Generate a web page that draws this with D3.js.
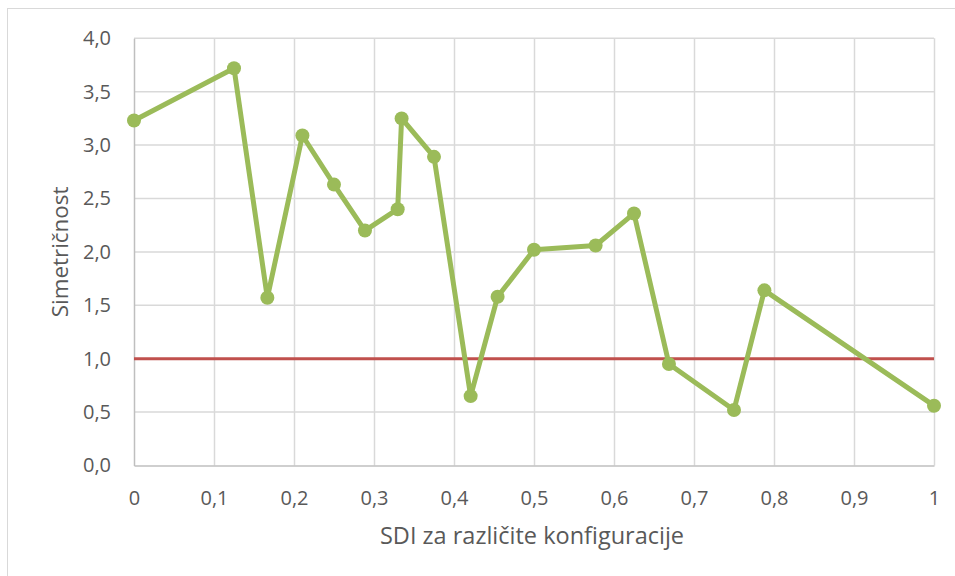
<!DOCTYPE html>
<html>
<head>
<meta charset="utf-8">
<script src="https://cdn.jsdelivr.net/npm/d3@7"></script>
<style>
  html, body { margin: 0; padding: 0; background: #fff; }
  svg { display: block; }
</style>
</head>
<body>
<svg id="chart" width="955" height="576"></svg>
<script>
// SDI value for each configuration and its measured symmetry
const sdi = [0, 0.125, 0.1667, 0.2105, 0.25, 0.2887, 0.3296, 0.3345, 0.375,
             0.4208, 0.4545, 0.5, 0.577, 0.625, 0.6687, 0.75, 0.788, 1];
const simetricnost = [3.23, 3.72, 1.57, 3.09, 2.63, 2.20, 2.40, 3.25, 2.89,
                      0.65, 1.58, 2.02, 2.06, 2.36, 0.95, 0.52, 1.64, 0.56];
// reference level (perfect symmetry)
const refX = [0, 1];
const refY = [1, 1];

const xTicks = [0, 0.1, 0.2, 0.3, 0.4, 0.5, 0.6, 0.7, 0.8, 0.9, 1];
const yTicks = [0, 0.5, 1, 1.5, 2, 2.5, 3, 3.5, 4];

const xTitle = "SDI za različite konfiguracije";
const yTitle = "Simetričnost";

const svg = d3.select("#chart");
const font = "'Open Sans', 'Noto Sans', sans-serif";
const textColor = "#595959";

// outer chart frame
svg.append("rect")
  .attr("x", 7.5).attr("y", 8.5)
  .attr("width", 960).attr("height", 580)
  .attr("fill", "#fff")
  .attr("stroke", "#d9d9d9").attr("stroke-width", 1);

const x = d3.scaleLinear().domain([0, 1]).range([134, 934]);
const y = d3.scaleLinear().domain([0, 4]).range([465.5, 38.3]);

const fmt = v => (v === 0 || v === 1) ? String(v) : String(v).replace(".", ",");
const fmtY = v => v.toFixed(1).replace(".", ",");

// gridlines
const grid = svg.append("g");
grid.selectAll("line.v").data(xTicks.slice(1)).join("line")
  .attr("x1", d => Math.round(x(d)) + 0.5).attr("x2", d => Math.round(x(d)) + 0.5)
  .attr("y1", y(4)).attr("y2", y(0))
  .attr("stroke", "#d9d9d9").attr("stroke-width", 1.5);
grid.selectAll("line.h").data(yTicks.slice(1)).join("line")
  .attr("x1", x(0)).attr("x2", x(1))
  .attr("y1", d => y(d)).attr("y2", d => y(d))
  .attr("stroke", "#d9d9d9").attr("stroke-width", 1.5);

// axes
const xAxis = svg.append("g")
  .attr("transform", `translate(0,${y(0)})`)
  .call(d3.axisBottom(x).tickValues(xTicks).tickFormat(fmt).tickSize(0).tickPadding(25));
const yAxis = svg.append("g")
  .attr("transform", `translate(${x(0)},0)`)
  .call(d3.axisLeft(y).tickValues(yTicks).tickFormat(fmtY).tickSize(0).tickPadding(23));

[xAxis, yAxis].forEach(g => {
  g.select(".domain").attr("stroke", "#bfbfbf").attr("stroke-width", 1.5);
  g.selectAll("text")
    .attr("fill", textColor)
    .style("font-family", font)
    .style("font-size", "20px");
});

// reference line at 1,0
const line = d3.line().x(d => x(d[0])).y(d => y(d[1]));
svg.append("path")
  .datum(d3.zip(refX, refY))
  .attr("d", line)
  .attr("fill", "none")
  .attr("stroke", "#c0504d")
  .attr("stroke-width", 3);

// symmetry series
const pts = d3.zip(sdi, simetricnost);
svg.append("path")
  .datum(pts)
  .attr("d", line)
  .attr("fill", "none")
  .attr("stroke", "#9bbb59")
  .attr("stroke-width", 5)
  .attr("stroke-linejoin", "round");
svg.append("g").selectAll("circle").data(pts).join("circle")
  .attr("cx", d => x(d[0])).attr("cy", d => y(d[1]))
  .attr("r", 7)
  .attr("fill", "#9bbb59");

// axis titles
svg.append("text")
  .attr("x", 532).attr("y", 544)
  .attr("text-anchor", "middle")
  .attr("fill", textColor)
  .style("font-family", font).style("font-size", "23.5px")
  .text(xTitle);
svg.append("text")
  .attr("transform", `translate(68,${(y(0) + y(4)) / 2}) rotate(-90)`)
  .attr("text-anchor", "middle")
  .attr("fill", textColor)
  .style("font-family", font).style("font-size", "22.4px")
  .text(yTitle);
</script>
</body>
</html>
